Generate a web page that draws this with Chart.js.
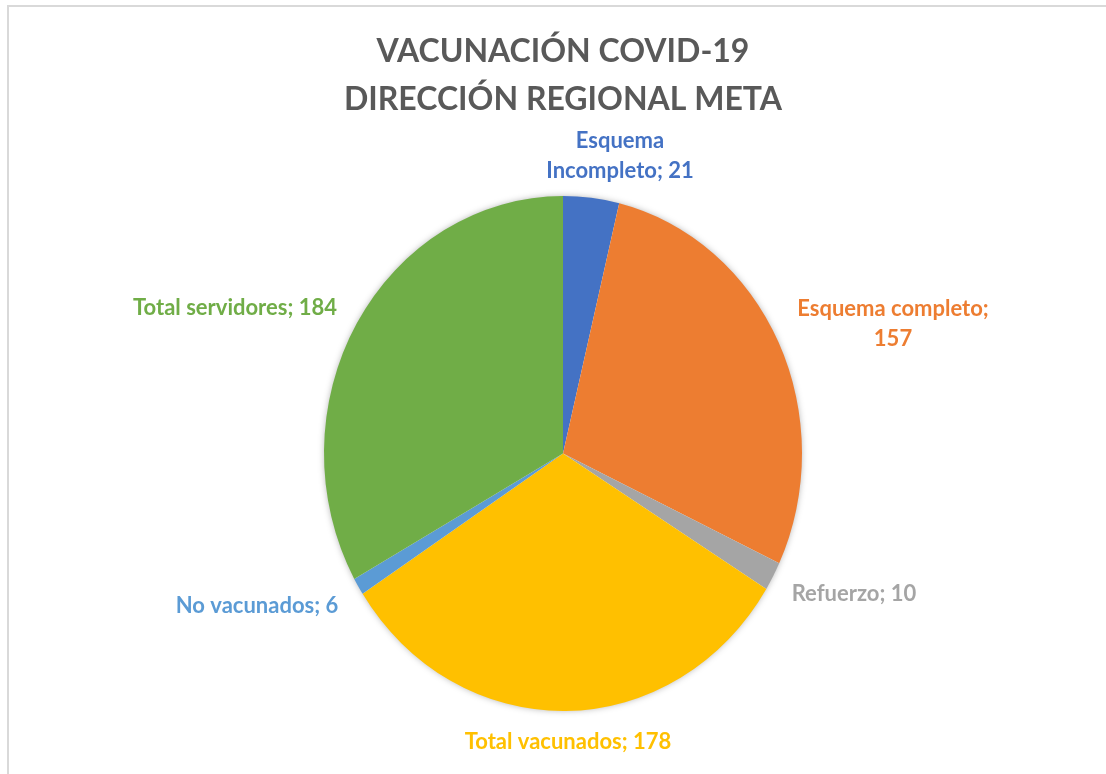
<!DOCTYPE html>
<html>
<head>
<meta charset="utf-8">
<script src="https://cdn.jsdelivr.net/npm/chart.js@4.4.0/dist/chart.umd.min.js"></script>
<style>
    html, body { margin: 0; padding: 0; background: #fff; }
    #wrap { width: 1106px; height: 774px; position: relative; }
</style>
</head>
<body>
<div id="wrap"><canvas id="myCanvas" width="1106" height="774"></canvas></div>
<script>
// datos del grafico
const categorias = ['Esquema Incompleto', 'Esquema completo', 'Refuerzo', 'Total vacunados', 'No vacunados', 'Total servidores'];
const valores = [21, 157, 10, 178, 6, 184];
const colores = ['#4472C4', '#ED7D31', '#A5A5A5', '#FFC000', '#5B9BD5', '#70AD47'];
const titulo = ['VACUNACIÓN COVID-19', 'DIRECCIÓN REGIONAL META'];

// posicion de cada etiqueta respecto al centro del pastel (dx, dy, ancho max)
const posEtiquetas = [
    {dx: 57, dy: -298, w: 170},
    {dx: 330, dy: -130, w: 212},
    {dx: 291, dy: 140, w: 300},
    {dx: 5, dy: 288, w: 300},
    {dx: -306, dy: 152, w: 300},
    {dx: -328, dy: -146, w: 300}
];

const escalaX = 239 / 257.5; // el pastel original esta un poco achatado

function partirTexto(ctx, texto, maxW) {
    const palabras = texto.split(' ');
    const lineas = [];
    let actual = '';
    palabras.forEach(p => {
        const prueba = actual ? actual + ' ' + p : p;
        if (ctx.measureText(prueba).width > maxW && actual) {
            lineas.push(actual);
            actual = p;
        } else {
            actual = prueba;
        }
    });
    if (actual) lineas.push(actual);
    return lineas;
}

const decoracion = {
    id: 'decoracion',
    beforeDraw(chart) {
        const ctx = chart.ctx;
        ctx.save();
        ctx.fillStyle = '#fff';
        ctx.fillRect(0, 0, chart.width, chart.height);
        ctx.strokeStyle = '#D9D9D9';
        ctx.lineWidth = 2;
        ctx.beginPath();
        ctx.moveTo(8, chart.height);
        ctx.lineTo(8, 6);
        ctx.lineTo(chart.width, 6);
        ctx.stroke();
        // titulo
        ctx.fillStyle = '#595959';
        ctx.font = 'bold 32px Lato';
        ctx.textAlign = 'center';
        ctx.textBaseline = 'middle';
        ctx.fillText(titulo[0], 563, 52);
        ctx.fillText(titulo[1], 563, 100);
        ctx.restore();
    },
    beforeDatasetsDraw(chart) {
        const ctx = chart.ctx;
        const arc = chart.getDatasetMeta(0).data[0];
        const r = arc.outerRadius;
        ctx.save();
        ctx.translate(arc.x, arc.y);
        ctx.scale(escalaX, 1);
        ctx.translate(-arc.x, -arc.y);
        // sombra suave alrededor
        ctx.save();
        ctx.shadowColor = 'rgba(0,0,0,0.35)';
        ctx.shadowBlur = 7;
        ctx.fillStyle = '#fff';
        ctx.beginPath();
        ctx.arc(arc.x, arc.y, r - 1, 0, Math.PI * 2);
        ctx.fill();
        ctx.restore();
    },
    afterDatasetsDraw(chart) {
        const ctx = chart.ctx;
        ctx.restore();
        const arc = chart.getDatasetMeta(0).data[0];
        ctx.save();
        ctx.font = 'bold 22px Lato';
        ctx.textAlign = 'center';
        ctx.textBaseline = 'middle';
        categorias.forEach((c, i) => {
            const p = posEtiquetas[i];
            const lineas = partirTexto(ctx, c + '; ' + valores[i], p.w);
            const lh = 30;
            const y0 = arc.y + p.dy - (lineas.length - 1) * lh / 2;
            ctx.fillStyle = colores[i];
            lineas.forEach((l, k) => ctx.fillText(l, arc.x + p.dx, y0 + k * lh));
        });
        ctx.restore();
    }
};

new Chart(document.getElementById('myCanvas'), {
    type: 'pie',
    data: {
        labels: categorias,
        datasets: [{
            data: valores,
            backgroundColor: colores,
            borderWidth: 0
        }]
    },
    options: {
        responsive: false,
        animation: false,
        layout: {
            padding: {top: 196, bottom: 63, left: 100, right: 80}
        },
        plugins: {
            legend: {display: false},
            tooltip: {enabled: false},
            title: {display: false}
        }
    },
    plugins: [decoracion]
});
</script>
</body>
</html>
